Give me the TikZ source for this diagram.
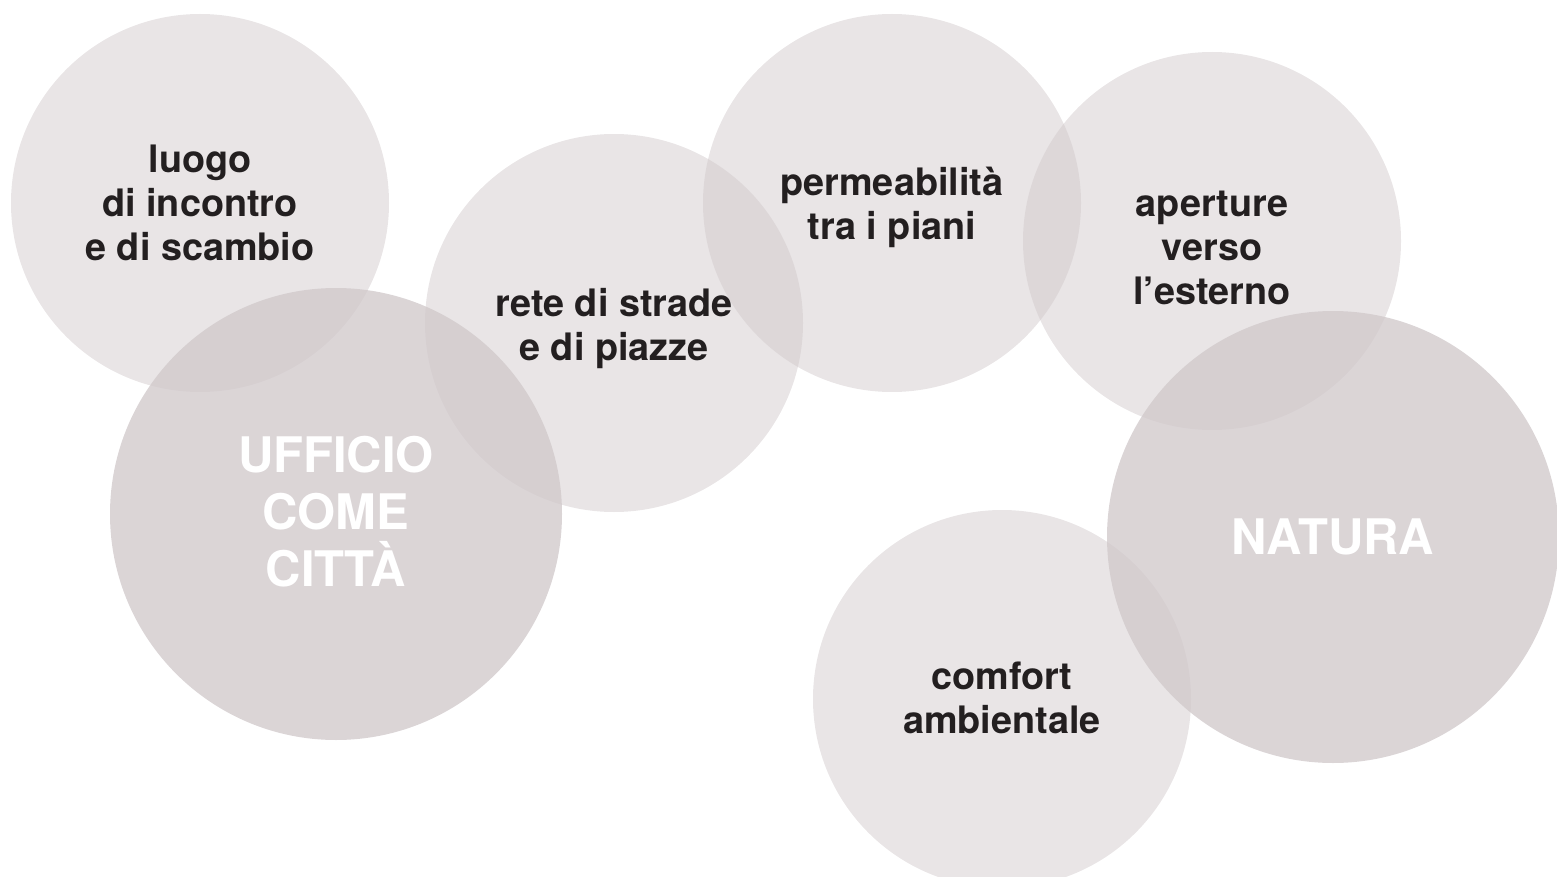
\documentclass[tikz,border=0pt]{standalone}
\usepackage{fontspec}
\setmainfont{TeX Gyre Heros}
\usepackage{tikz}
\usetikzlibrary{positioning}
\usepackage{xcolor}
\definecolor{bubble}{RGB}{208,200,202}
\definecolor{ink}{RGB}{35,31,32}

\begin{document}
\begin{tikzpicture}[
      x=0.5pt, y=-0.5pt,
      idea/.style={circle, fill=bubble, fill opacity=0.48, inner sep=0pt, minimum size=189pt},
      theme/.style={circle, fill=bubble, fill opacity=0.77, inner sep=0pt, minimum size=226pt},
      ideatext/.style={align=center, text=ink, font=\fontsize{18.9}{22}\selectfont\bfseries},
      themetext/.style={align=center, text=white, font=\fontsize{24.5}{28.5}\selectfont\bfseries}
    ]

    \useasboundingbox (0,0) rectangle (1557,877);

    % Main themes
    \node[theme] (ufficio) at (336, 514) {};
    \node[theme] (natura) at (1333, 537) {};

    % Ideas
    \node[idea] (luogo) at (200, 203) {};
    \node[idea] (rete) at (614, 323) {};
    \node[idea] (permeabilita) at (892, 203) {};
    \node[idea] (aperture) at (1212, 241) {};
    \node[idea] (comfort) at (1002, 699) {};

    % Texts
    \node[themetext] (ufficiotxt) at ([yshift=1pt]ufficio.center) {UFFICIO\\COME\\CITTÀ};
    \node[themetext] (naturatxt) at (natura.center) {NATURA};

    \node[ideatext] (luogotxt) at (luogo.center) {luogo\\di incontro\\e di scambio};
    \node[ideatext] (retetxt) at ([yshift=-3pt]rete.center) {rete di strade\\e di piazze};
    \node[ideatext] (permeabilitatxt) at ([yshift=-2pt]permeabilita.center) {permeabilità\\tra i piani};
    \node[ideatext] (aperturetxt) at ([yshift=-3.5pt]aperture.center) {aperture\\verso\\l’esterno};
    \node[ideatext] (comforttxt) at ([yshift=0.5pt]comfort.center) {comfort\\ambientale};

  \end{tikzpicture}
\end{document}
